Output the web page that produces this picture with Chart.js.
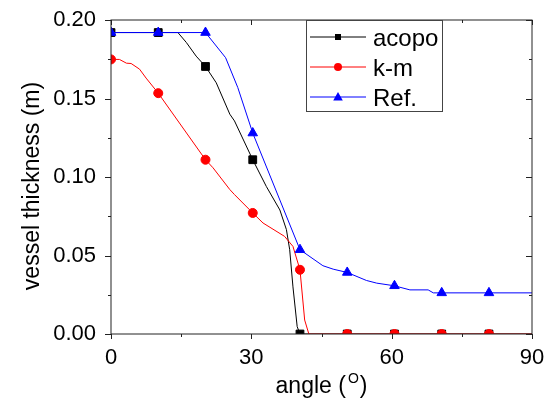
<!DOCTYPE html>
<html>
<head>
<meta charset="utf-8">
<title>vessel thickness</title>
<script src="https://cdn.jsdelivr.net/npm/chart.js@4/dist/chart.umd.min.js"></script>
<style>
  html, body { margin: 0; padding: 0; background: #fff; overflow: hidden; }
  #wrap { position: relative; width: 553px; height: 403px; }
</style>
</head>
<body>
<div id="wrap"><canvas id="thicknessChart"></canvas></div>
<script>
'use strict';

/* ---------- data ---------- */
// angles (deg) where a symbol is drawn on each curve
const markerAngles = [0, 10.1, 20.2, 30.3, 40.4, 50.5, 60.6, 70.7, 80.8];

const acopoAngle = [0, 10.1, 14.3, 16.1, 18.2, 20.2, 22.5, 25.4, 26.4, 30.3, 33.2, 36.1, 37.5, 38.2, 38.9, 39.8, 40.4, 50.5, 60.6, 70.7, 80.8, 90];
const acopoThick = [0.192, 0.192, 0.192, 0.1857, 0.177, 0.1704, 0.160, 0.140, 0.1357, 0.111, 0.094, 0.079, 0.0665, 0.0537, 0.030, 0.0047, 0, 0, 0, 0, 0, 0];

const kmAngle = [0, 1.8, 3.3, 4.3, 6.1, 7.5, 10.1, 20.2, 21.8, 25.4, 26.4, 30.3, 32.5, 37.1, 38.9, 40.4, 41.4, 42.3, 50.5, 60.6, 70.7, 80.8, 90];
const kmThick = [0.1749, 0.1749, 0.1725, 0.1723, 0.1687, 0.163, 0.1534, 0.111, 0.1059, 0.092, 0.0888, 0.0771, 0.0707, 0.0622, 0.0558, 0.0409, 0.0089, 0, 0, 0, 0, 0, 0];

const refAngle = [0, 10.1, 20.2, 24.5, 27.1, 30.3, 40.4, 45.3, 47.5, 50.5, 54.6, 56.8, 60.6, 63.9, 67.8, 68.9, 70.7, 80.8, 90];
const refThick = [0.192, 0.192, 0.192, 0.176, 0.157, 0.128, 0.0537, 0.0435, 0.0413, 0.0392, 0.0341, 0.0324, 0.0307, 0.0281, 0.0281, 0.0262, 0.0262, 0.0262, 0.0262];

const xMajorTicks = [0, 30, 60, 90];
const xMinorTicks = [15, 45, 75];
const yMajorTicks = [0, 0.05, 0.10, 0.15, 0.20];
const yMinorTicks = [0.025, 0.075, 0.125, 0.175];

const FONT = "'Liberation Sans', Arial, sans-serif";

/* ---------- helpers ---------- */
function toPoints(xs, ys) {
    return xs.map((x, i) => ({ x, y: ys[i] }));
}

function isMarker(x) {
    return markerAngles.some(m => Math.abs(m - x) < 1e-6);
}

function series(label, xs, ys, color, style, radius, order) {
    return {
        label,
        data: toPoints(xs, ys),
        borderColor: color,
        backgroundColor: color,
        borderWidth: 1,
        pointStyle: style,
        pointRadius: ctx => (isMarker(ctx.raw.x) ? radius : 0),
        pointBorderWidth: 1,
        pointBorderColor: color,
        pointBackgroundColor: color,
        tension: 0,
        order,
    };
}

function legendSymbol(ctx, style, x, y, color) {
    ctx.fillStyle = color;
    ctx.beginPath();
    if (style === 'rect') {
        ctx.rect(x - 3, y - 3, 6, 6);
    } else if (style === 'circle') {
        ctx.arc(x, y, 4, 0, Math.PI * 2);
    } else {
        ctx.moveTo(x, y - 5);
        ctx.lineTo(x + 4.8, y + 3.5);
        ctx.lineTo(x - 4.8, y + 3.5);
        ctx.closePath();
    }
    ctx.fill();
}

/* ---------- frame, ticks, titles, legend ---------- */
const framePlugin = {
    id: 'frame',
    afterDatasetsDraw(chart) {
        const { ctx, chartArea: a, scales } = chart;
        const xs = scales.x, ys = scales.y;
        ctx.save();
        ctx.strokeStyle = '#222';
        ctx.lineWidth = 1;
        ctx.strokeRect(a.left, a.top, a.right - a.left, a.bottom - a.top);

        ctx.beginPath();
        const xTick = (v, len) => {
            const px = Math.round(xs.getPixelForValue(v)) + 0.5;
            ctx.moveTo(px, a.bottom); ctx.lineTo(px, a.bottom + len);
            ctx.moveTo(px, a.top); ctx.lineTo(px, a.top + len);
        };
        const yTick = (v, len) => {
            const py = Math.round(ys.getPixelForValue(v)) + 0.5;
            ctx.moveTo(a.left, py); ctx.lineTo(a.left - len, py);
            ctx.moveTo(a.right, py); ctx.lineTo(a.right - len, py);
        };
        xMajorTicks.forEach(v => xTick(v, 5));
        xMinorTicks.forEach(v => xTick(v, 3));
        yMajorTicks.forEach(v => yTick(v, 6));
        yMinorTicks.forEach(v => yTick(v, 3));
        ctx.stroke();
        ctx.restore();
    },
    afterDraw(chart) {
        const { ctx, chartArea: a } = chart;
        ctx.save();
        ctx.fillStyle = '#000';

        // x title with superscript degree mark
        const mainFont = '23px ' + FONT;
        const supFont = '14px ' + FONT;
        ctx.font = mainFont;
        const wA = ctx.measureText('angle (').width;
        const wC = ctx.measureText(')').width;
        ctx.font = supFont;
        const wO = ctx.measureText('O').width;
        const total = wA + 2 + wO + 1 + wC;
        let x0 = (a.left + a.right) / 2 - total / 2;
        const base = 393;
        ctx.textBaseline = 'alphabetic';
        ctx.textAlign = 'left';
        ctx.font = mainFont;
        ctx.fillText('angle (', x0, base);
        ctx.font = supFont;
        ctx.fillText('O', x0 + wA + 2, base - 10);
        ctx.font = mainFont;
        ctx.fillText(')', x0 + wA + 2 + wO + 1, base);

        // y title
        ctx.save();
        ctx.translate(38.5, 186);
        ctx.rotate(-Math.PI / 2);
        ctx.textAlign = 'center';
        ctx.font = mainFont;
        ctx.fillText('vessel thickness (m)', 0, 0);
        ctx.restore();

        // legend box
        const bx = 306.5, by = 20.5, bw = 136, bh = 91;
        ctx.fillStyle = '#fff';
        ctx.fillRect(bx, by, bw, bh);
        ctx.strokeStyle = '#444';
        ctx.lineWidth = 1;
        ctx.strokeRect(bx, by, bw, bh);

        const rows = [36.5, 66.5, 96.5];
        chart.data.datasets.forEach((ds, i) => {
            const y = rows[i];
            ctx.strokeStyle = ds.borderColor;
            ctx.beginPath();
            ctx.moveTo(310, y + 0.5);
            ctx.lineTo(366, y + 0.5);
            ctx.stroke();
            legendSymbol(ctx, ds.pointStyle, 338, y + 0.5, ds.borderColor);
            ctx.fillStyle = '#000';
            ctx.font = '24px ' + FONT;
            ctx.textAlign = 'left';
            ctx.textBaseline = 'alphabetic';
            ctx.fillText(ds.label, 373, y + 9);
        });
        ctx.restore();
    }
};

/* ---------- chart ---------- */
const ctx = document.getElementById('thicknessChart').getContext('2d');

new Chart(ctx, {
    type: 'line',
    data: {
        datasets: [
            series('acopo', acopoAngle, acopoThick, '#000000', 'rect', 5.5, 2),
            series('k-m', kmAngle, kmThick, '#ff0000', 'circle', 4.5, 1),
            series('Ref.', refAngle, refThick, '#0000ff', 'triangle', 5.5, 0),
        ],
    },
    options: {
        responsive: true,
        maintainAspectRatio: false,
        animation: false,
        layout: { padding: { top: 20, right: 21, left: 0, bottom: 0 } },
        plugins: {
            legend: { display: false },
            tooltip: { enabled: false },
        },
        scales: {
            x: {
                type: 'linear',
                min: 0,
                max: 90,
                // fixed box; no extra room for the end labels
                afterFit: s => { s.height = 69; s.paddingLeft = 0; s.paddingRight = 0; },
                grid: { display: false, drawTicks: false },
                border: { display: false },
                ticks: {
                    stepSize: 30,
                    autoSkip: false,
                    maxRotation: 0,
                    padding: 11,
                    color: '#000',
                    font: { family: FONT, size: 22 },
                },
            },
            y: {
                type: 'linear',
                min: 0,
                max: 0.2,
                afterFit: s => { s.width = 111; s.paddingTop = 0; s.paddingBottom = 0; },
                grid: { display: false, drawTicks: false },
                border: { display: false },
                ticks: {
                    stepSize: 0.05,
                    padding: 15,
                    color: '#000',
                    font: { family: FONT, size: 22 },
                    callback: v => v.toFixed(2),
                },
            },
        },
    },
    plugins: [framePlugin],
});
</script>
</body>
</html>
